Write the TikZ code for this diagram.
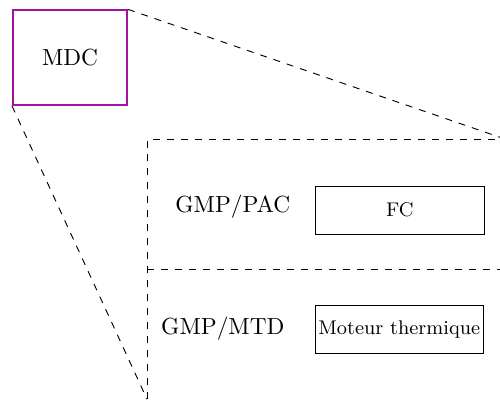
\documentclass[tikz,border=0pt]{standalone}
\usepackage{tikz}
\usetikzlibrary{positioning}
\definecolor{mdcviolet}{RGB}{160,20,160}

\begin{document}
\begin{tikzpicture}
  \tikzset{
    partbox/.style={draw, thin, minimum width=2.55cm, minimum height=0.72cm, inner sep=0pt, font=\fontsize{8.5pt}{10pt}\selectfont},
    zoomline/.style={dashed, thin}
  }
  \useasboundingbox (0,0) rectangle (7.54,6.02);
  \node[draw=mdcviolet, line width=0.8pt, minimum width=1.72cm, minimum height=1.43cm] (mdc) at (1.056,5.15) {MDC};
  % frame of the zoomed part
  \coordinate (frametl) at (2.217,3.92);
  \coordinate (frametr) at (7.54,3.92);
  \coordinate (framebl) at (2.217,0);
  \coordinate (frameml) at (2.217,1.96);
  \coordinate (framemr) at (7.54,1.96);
  \coordinate (zoomtr) at (7.54,3.95);
  \draw[zoomline] (framebl) -- (frametl) -- (frametr);
  \draw[zoomline] (frameml) -- (framemr);
  \draw[zoomline] (mdc.north east) -- (zoomtr);
  \draw[zoomline] (mdc.south west) -- (framebl);
  % components
  \node[] (pac) at (3.51,2.90) {GMP/PAC};
  \node[partbox] (fc) at (6.03,2.85) {FC};
  \node[] (mtd) at (3.36,1.06) {GMP/MTD};
  \node[partbox, minimum width=2.53cm] (moteur) at (6.02,1.05) {Moteur thermique};
\end{tikzpicture}
\end{document}
